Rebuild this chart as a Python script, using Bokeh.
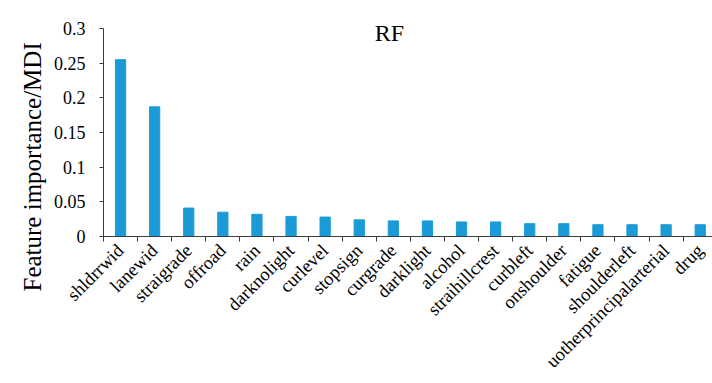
import numpy as np
from math import pi
from bokeh.plotting import figure
from bokeh.models import FixedTicker, CustomJSTickFormatter, Label, Range1d, Title
from bokeh.embed import file_html
from bokeh.resources import INLINE

# Random-forest feature importances (mean decrease in impurity)
features = ["shldrrwid", "lanewid", "straigrade", "offroad", "rain", "darknolight",
            "curlevel", "stopsign", "curgrade", "darklight", "alcohol", "straihillcrest",
            "curbleft", "onshoulder", "fatigue", "shoulderleft",
            "uotherprincipalarterial", "drug"]
importance = [0.255, 0.187, 0.041, 0.035, 0.032, 0.029, 0.028, 0.024, 0.0225, 0.0225,
              0.021, 0.021, 0.0185, 0.0185, 0.017, 0.017, 0.017, 0.017]
y_ticks = [0, 0.05, 0.1, 0.15, 0.2, 0.25, 0.3]

FONT = "Liberation Serif"
BAR = "#1a9bd7"
AXIS = "#3c3c3c"

n = len(features)
centers = list(np.arange(n) + 0.5)
bounds = list(np.arange(n + 1).astype(float))

p = figure(width=712, height=383, output_backend="svg", toolbar_location=None,
           min_border_left=103, min_border_right=0, min_border_top=0,
           min_border_bottom=147)
# headroom above 0.3 leaves space for the "RF" heading inside the frame
p.x_range = Range1d(0, 17.86)
p.y_range = Range1d(0, 0.3404)

p.vbar(x=centers, top=importance, width=0.3, color=BAR)

p.grid.visible = False
p.outline_line_color = None
p.background_fill_color = "white"
p.border_fill_color = "white"

# x axis: boundary ticks as minor ticks, names at category centres
xa = p.xaxis[0]
xa.ticker = FixedTicker(ticks=centers, minor_ticks=bounds)
xa.formatter = CustomJSTickFormatter(args=dict(names=features),
                                     code="return names[Math.floor(tick)];")
xa.major_tick_line_color = None
xa.minor_tick_in = 0
xa.minor_tick_out = 5
xa.minor_tick_line_color = AXIS
xa.axis_line_color = AXIS
xa.major_label_orientation = pi / 4
xa.major_label_text_font = FONT
xa.major_label_text_font_size = "18.5px"
xa.major_label_text_color = "black"
xa.major_label_standoff = 5

ya = p.yaxis[0]
ya.bounds = (0, 0.3)
ya.ticker = FixedTicker(ticks=y_ticks)
ya.formatter = CustomJSTickFormatter(
    code="return tick === 0 ? '0' : tick.toFixed(2).replace(/0+$/, '');")
ya.minor_tick_line_color = None
ya.major_tick_in = 0
ya.major_tick_out = 4
ya.major_tick_line_color = AXIS
ya.axis_line_color = AXIS
ya.major_label_text_font = FONT
ya.major_label_text_font_size = "18px"
ya.major_label_text_color = "black"
ya.major_label_standoff = 14

p.add_layout(Title(text="Feature  importance/MDI", align="left", offset=-55,
                   text_font=FONT, text_font_size="25px", text_color="black",
                   text_font_style="normal"), "left")
p.add_layout(Label(x=286, y=204, x_units="screen", y_units="screen",
                   text="RF", text_font=FONT, text_font_size="24px",
                   text_color="black", text_align="center",
                   text_baseline="alphabetic"))

open("out.html", "w").write(file_html(p, INLINE))
